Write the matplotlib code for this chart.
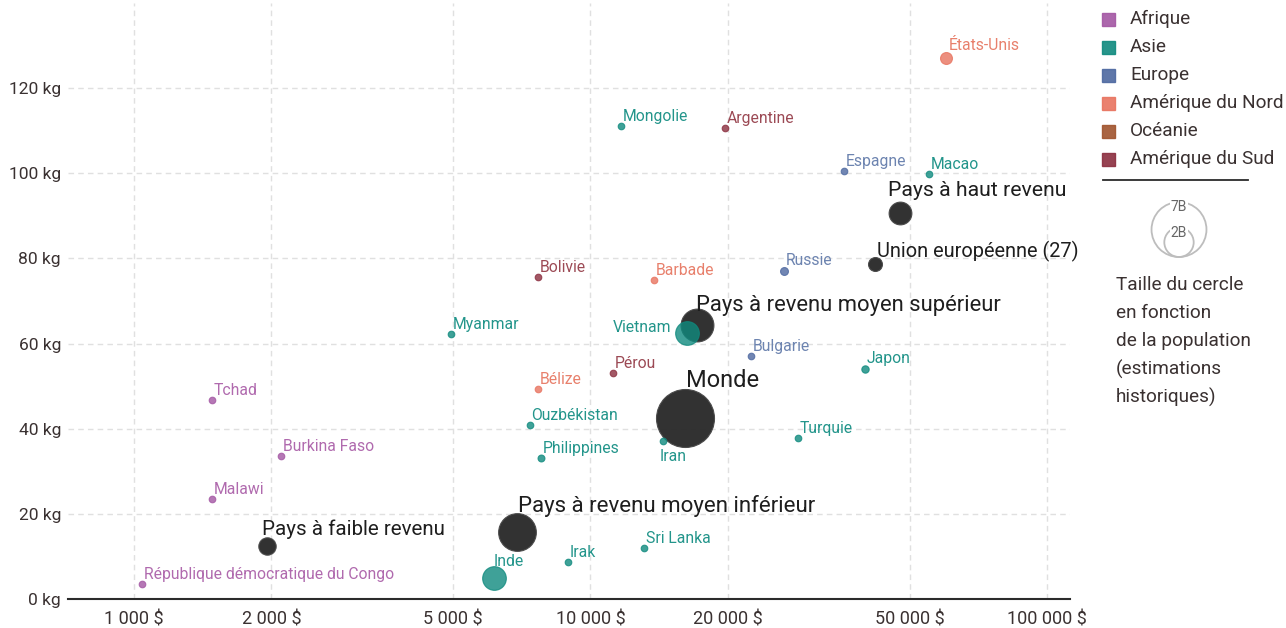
import numpy as np
import matplotlib.pyplot as plt
from matplotlib.patches import Circle, Rectangle
from matplotlib.ticker import FixedLocator, FixedFormatter

plt.rcParams['font.family'] = ['Roboto', 'DejaVu Sans']

# --- data -------------------------------------------------------------
continents = ['Afrique', 'Asie', 'Europe', 'Amérique du Nord', 'Océanie', 'Amérique du Sud']
continent_colors = ['#a356a3', '#0f8a7e', '#4d68a0', '#e8735f', '#a0532d', '#8b2e3f']
label_colors = ['#b06aae', '#23958b', '#6d84b0', '#e8806c', '#a8643e', '#9c4a55']

countries = ['États-Unis', 'Mongolie', 'Argentine', 'Espagne', 'Macao', 'Russie',
             'Bolivie', 'Barbade', 'Myanmar', 'Vietnam', 'Bulgarie', 'Japon',
             'Pérou', 'Bélize', 'Tchad', 'Ouzbékistan', 'Iran', 'Turquie',
             'Philippines', 'Burkina Faso', 'Malawi', 'Inde', 'Irak', 'Sri Lanka',
             'République démocratique du Congo']
country_region = ['Amérique du Nord', 'Asie', 'Amérique du Sud', 'Europe', 'Asie', 'Europe',
                  'Amérique du Sud', 'Amérique du Nord', 'Asie', 'Asie', 'Europe', 'Asie',
                  'Amérique du Sud', 'Amérique du Nord', 'Afrique', 'Asie', 'Asie', 'Asie',
                  'Asie', 'Afrique', 'Afrique', 'Asie', 'Asie', 'Asie',
                  'Afrique']
country_gdp = [60100, 11670, 19700, 35900, 55150, 26550,
               7675, 13770, 4945, 16250, 22470, 39900,
               11200, 7675, 1482, 7364, 14420, 28480,
               7793, 2099, 1482, 6150, 8935, 13090,
               1041]
country_meat = [127.0, 111.0, 110.6, 100.5, 99.8, 77.0,
                75.6, 74.9, 62.2, 62.4, 57.0, 54.0,
                53.1, 49.3, 46.7, 40.8, 37.1, 37.8,
                33.1, 33.6, 23.5, 4.9, 8.7, 12.0,
                3.5]
country_pop = [0.33, 0.003, 0.045, 0.047, 0.0007, 0.145,
               0.012, 0.0003, 0.054, 1.3, 0.007, 0.125,
               0.033, 0.0004, 0.017, 0.034, 0.087, 0.085,
               0.11, 0.021, 0.019, 1.3, 0.042, 0.022,
               0.095]

groups = ['Monde', 'Pays à revenu moyen inférieur', 'Pays à revenu moyen supérieur',
          'Pays à haut revenu', 'Pays à faible revenu', 'Union européenne (27)']
group_gdp = [16110, 6900, 17100, 47650, 1955, 41980]
group_meat = [42.5, 15.7, 64.3, 90.6, 12.4, 78.6]
group_pop = [7.8, 3.3, 2.5, 1.2, 0.7, 0.45]

x_ticks = [1000, 2000, 5000, 10000, 20000, 50000, 100000]
x_tick_labels = ['1 000 $', '2 000 $', '5 000 $', '10 000 $', '20 000 $', '50 000 $', '100 000 $']
y_ticks = [0, 20, 40, 60, 80, 100, 120]
y_tick_labels = ['0 kg', '20 kg', '40 kg', '60 kg', '80 kg', '100 kg', '120 kg']

# --- styling ----------------------------------------------------------
DPI = 100
W, H = 1286, 628
text_dark = '#3a3131'

def radius_px(p):
    return max(29 * np.sqrt(p / 7.8), 3.3)

def size_pts(p):
    return (2 * radius_px(p) * 72 / DPI) ** 2

# label placement tweaks (pixel offsets, alignment)
country_label_pos = {
    'Iran': dict(xytext=(-3, -8), ha='left', va='top'),
    'Vietnam': dict(xytext=(-15, 1), ha='right', va='baseline'),
    'Inde': dict(xytext=(0, 12), ha='left', va='baseline'),
}
group_label_pos = {
    'Monde': (1, 31, 17),
    'Pays à revenu moyen inférieur': (1, 20, 16),
    'Pays à revenu moyen supérieur': (-1, 14, 15.8),
    'Pays à haut revenu': (-12, 17, 15.3),
    'Pays à faible revenu': (-5, 11, 14.8),
    'Union européenne (27)': (2, 7, 14.4),
}

fig = plt.figure(figsize=(W / DPI, H / DPI), dpi=DPI)
ax = fig.add_axes([68 / W, 29 / H, (1070 - 68) / W, (628 - 29 - 3) / H])

ax.set_xscale('log')
ax.set_xlim(717, 112300)
ax.set_ylim(0, 140)

ax.xaxis.set_major_locator(FixedLocator(x_ticks))
ax.xaxis.set_major_formatter(FixedFormatter(x_tick_labels))
ax.xaxis.set_minor_locator(FixedLocator([]))
ax.set_yticks(y_ticks)
ax.set_yticklabels(y_tick_labels)
ax.tick_params(axis='both', length=0, colors=text_dark)
ax.tick_params(axis='x', pad=8, labelsize=13)
ax.tick_params(axis='y', pad=5, labelsize=12.5)
ax.grid(True, color='#e0e0e0', linestyle=(0, (4, 3)), linewidth=1)
ax.set_axisbelow(True)
for side in ['left', 'right', 'top']:
    ax.spines[side].set_visible(False)
ax.spines['bottom'].set_color('#2b2b2b')
ax.spines['bottom'].set_linewidth(1.5)

# groups (dark circles)
for name, gx, gy, gp in sorted(zip(groups, group_gdp, group_meat, group_pop), key=lambda t: -t[3]):
    ax.scatter(gx, gy, s=size_pts(gp), color='#2b2b2b', edgecolor='#4a4a4a',
               linewidth=0.8, alpha=0.97, zorder=3)
    dx, dy, fs = group_label_pos[name]
    ax.annotate(name, (gx, gy), xytext=(dx, dy), textcoords='offset pixels',
                ha='left', va='baseline', fontsize=fs, color='#1e1e1e', zorder=6)

# countries
order = np.argsort(country_pop)[::-1]
for i in order:
    ci = continents.index(country_region[i])
    r = radius_px(country_pop[i])
    ax.scatter(country_gdp[i], country_meat[i], s=size_pts(country_pop[i]),
               color=continent_colors[ci], alpha=0.8, edgecolor=continent_colors[ci],
               linewidth=0.8, zorder=4)
    pos = country_label_pos.get(countries[i],
                                dict(xytext=(max(r * 0.5, 1.5), r + 2), ha='left', va='baseline'))
    ax.annotate(countries[i], (country_gdp[i], country_meat[i]), textcoords='offset pixels',
                fontsize=11.3, color=label_colors[ci], zorder=5, **pos)

# --- legend overlay in pixel coordinates ------------------------------
lax = fig.add_axes([0, 0, 1, 1])
lax.set_xlim(0, W)
lax.set_ylim(H, 0)
lax.axis('off')

for k, (name, col) in enumerate(zip(continents, continent_colors)):
    yy = 19 + 28 * k
    lax.add_patch(Rectangle((1102, yy - 6.5), 13, 13, color=col, alpha=0.9))
    lax.text(1130, yy, name, fontsize=13.7, color=text_dark, va='center', ha='left')
lax.plot([1103, 1248], [180, 180], color='#2b2b2b', linewidth=1.3)

base_y = 257
for p, lab in [(7, '7B'), (2, '2B')]:
    r = radius_px(p)
    lax.add_patch(Circle((1179, base_y - r), r, fill=False, edgecolor='#bdbdbd', linewidth=1.3))
    lax.text(1179, base_y - 2 * r + 5, lab, fontsize=10, color='#666666', ha='center', va='center',
             bbox=dict(facecolor='white', edgecolor='none', pad=0.3))

size_note = ['Taille du cercle', 'en fonction', 'de la population', '(estimations', 'historiques)']
for k, line in enumerate(size_note):
    lax.text(1116, 285 + 28.2 * k, line, fontsize=13.7, color=text_dark, va='center', ha='left')

fig.savefig('out.png', dpi=DPI)
